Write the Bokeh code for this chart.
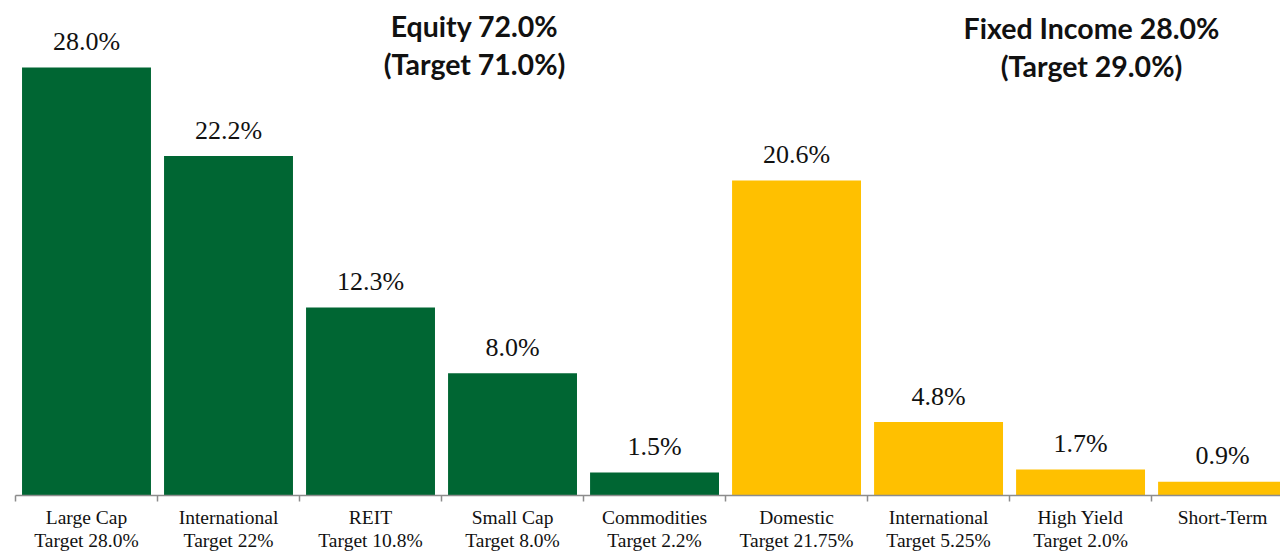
from bokeh.plotting import figure
from bokeh.models import ColumnDataSource, Range1d, FixedTicker, Label
from bokeh.core.properties import value
from bokeh.embed import file_html
from bokeh.resources import INLINE

# ---- data ----
categories = ["Large Cap", "International", "REIT", "Small Cap", "Commodities",
              "Domestic", "International", "High Yield", "Short-Term"]
targets = ["Target 28.0%", "Target 22%", "Target 10.8%", "Target 8.0%", "Target 2.2%",
           "Target 21.75%", "Target 5.25%", "Target 2.0%", ""]
values = [28.0, 22.2, 12.3, 8.0, 1.5, 20.6, 4.8, 1.7, 0.9]
groups = ["Equity"] * 5 + ["Fixed Income"] * 4
group_colors = {"Equity": "#006633", "Fixed Income": "#FFC000"}
title_equity = ["Equity 72.0%", "(Target 71.0%)"]
title_fixed = ["Fixed Income 28.0%", "(Target 29.0%)"]

xs = [i + 0.5 for i in range(len(categories))]
src = ColumnDataSource(dict(
    x=xs,
    top=values,
    color=[group_colors[g] for g in groups],
    lab=[f"{v:.1f}%" for v in values],
))

p = figure(frame_width=1280, frame_height=495, output_backend="svg", toolbar_location=None,
           x_range=Range1d(-0.1056, 8.908), y_range=Range1d(0, 32.38),
           y_axis_location=None, min_border_left=0, min_border_right=0,
           min_border_top=0, min_border_bottom=0)
p.outline_line_color = None
p.xgrid.visible = False
p.ygrid.visible = False

p.vbar(x="x", top="top", width=0.908, bottom=0, color="color", line_color=None, source=src)
p.text(x="x", y="top", text="lab", source=src, text_align="center",
       text_baseline="alphabetic", y_offset=-26,
       text_font=value("Liberation Serif"), text_font_size="26px", text_color="#111111")

ax = p.xaxis[0]
ax.ticker = FixedTicker(ticks=xs, minor_ticks=list(range(len(categories) + 1)))
ax.major_label_overrides = {x: (c + ("\n" + t if t else "")) for x, c, t in zip(xs, categories, targets)}
ax.bounds = (0, 9)
ax.axis_line_color = "#8c8c8c"
ax.axis_line_width = 1.5
ax.major_tick_out = 0
ax.major_tick_in = 0
ax.minor_tick_out = 6
ax.minor_tick_in = 0
ax.minor_tick_line_color = "#8c8c8c"
ax.minor_tick_line_width = 1.5
ax.major_label_standoff = 5
ax.major_label_text_font = "Liberation Serif"
ax.major_label_text_font_size = "19.5px"
ax.major_label_text_color = "#111111"
ax.major_label_text_line_height = 1.1

for lines, cx, base in ((title_equity, 474, 470), (title_fixed, 1091, 468)):
    for k, t in enumerate(lines):
        p.add_layout(Label(x=cx, y=base - 38.5 * k, x_units="screen", y_units="screen",
                           text=t, text_align="center", text_baseline="alphabetic",
                           text_font="Lato", text_font_style="bold",
                           text_font_size="28.5px", text_color="#111111"))

open("out.html", "w").write(file_html(p, INLINE))
